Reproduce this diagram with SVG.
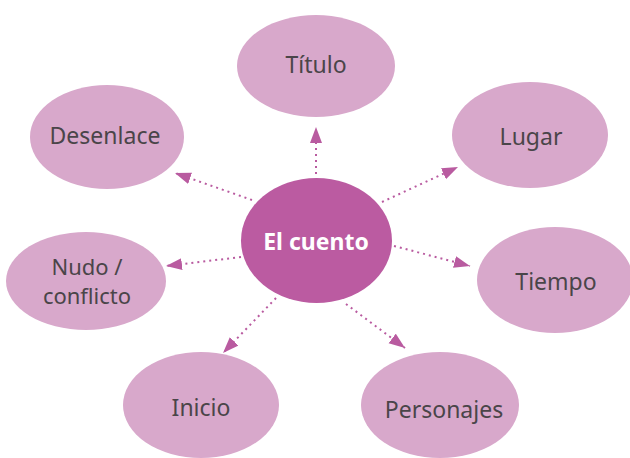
<svg xmlns="http://www.w3.org/2000/svg" width="630" height="458" viewBox="0 0 630 458">
<style>
.n ellipse{fill:#d8a8cb}
.n text{font-family:"Noto Sans","Open Sans",sans-serif;font-size:23px;fill:#4a4549;text-anchor:middle}
.c ellipse{fill:#bb5ba1}
.c text{font-family:"Noto Sans","Open Sans",sans-serif;font-size:23px;font-weight:bold;fill:#ffffff;text-anchor:middle}
.e line{stroke:#b95ba0;stroke-width:2;stroke-dasharray:2 4;marker-end:url(#ah)}
</style>
<defs>
<marker id="ah" markerUnits="userSpaceOnUse" markerWidth="17" markerHeight="13" refX="16" refY="6" orient="auto">
<path d="M0,0 L16,6 L0,12 Z" fill="#b95ba0"/>
</marker>
</defs>
<rect width="630" height="458" fill="#ffffff"/>
<g id="titulo" class="n"><ellipse cx="316" cy="66" rx="79" ry="51"/><text x="316" y="73">Título</text></g>
<g id="desenlace" class="n"><ellipse cx="107" cy="137" rx="77" ry="52"/><text x="105" y="144">Desenlace</text></g>
<g id="lugar" class="n"><ellipse cx="530" cy="135" rx="78" ry="53"/><text x="531" y="145">Lugar</text></g>
<g id="nudo" class="n"><ellipse cx="86" cy="281" rx="80" ry="49"/><text x="87" y="275" style="font-size:22px">Nudo /</text><text x="87" y="304" style="font-size:22px">conflicto</text></g>
<g id="tiempo" class="n"><ellipse cx="555" cy="280" rx="78" ry="53"/><text x="556" y="290">Tiempo</text></g>
<g id="inicio" class="n"><ellipse cx="201" cy="405" rx="78" ry="53"/><text x="201" y="416">Inicio</text></g>
<g id="personajes" class="n"><ellipse cx="440" cy="405" rx="79" ry="53"/><text x="444" y="418">Personajes</text></g>
<g id="cuento" class="c"><ellipse cx="316.5" cy="240.5" rx="75.5" ry="62.5"/><text x="316" y="250">El cuento</text></g>
<g id="connectors" class="e">
<line x1="316" y1="174" x2="316" y2="127"/>
<line x1="252" y1="200" x2="175" y2="173"/>
<line x1="382" y1="202" x2="458" y2="167"/>
<line x1="394" y1="246" x2="470" y2="266"/>
<line x1="241" y1="257" x2="166" y2="266"/>
<line x1="276" y1="298" x2="223" y2="353"/>
<line x1="346" y1="304" x2="405" y2="348"/>
</g>
</svg>
